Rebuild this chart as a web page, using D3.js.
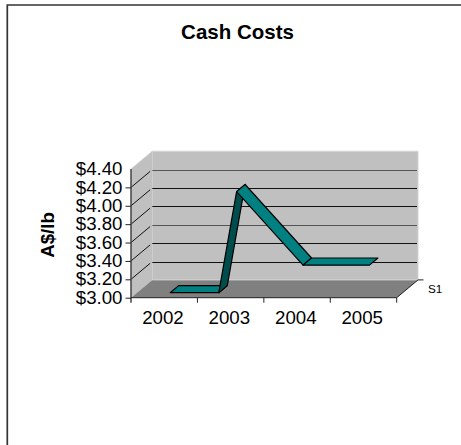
<!DOCTYPE html>
<html><head><meta charset="utf-8">
<script src="https://cdn.jsdelivr.net/npm/d3@7/dist/d3.min.js"></script>
<style>html,body{margin:0;padding:0;background:#fff}svg{display:block}text{font-family:"Liberation Sans",Arial,sans-serif;fill:#000}</style>
</head><body><svg id="c" width="461" height="445"></svg>
<script>
const categories = ["2002","2003","2004","2005"];
const costs = [0, 4.10, 3.30, 3.30];
const yTicks = [3.00,3.20,3.40,3.60,3.80,4.00,4.20,4.40];
const chartTitle = "Cash Costs";
const yTitle = "A$/lb";
const seriesName = "S1";

const svg = d3.select("#c");
const x = d3.scaleBand().domain(categories).range([131,396.7]);
const y = d3.scaleLinear().domain([3,4.4]).range([297.7,169]);
const dx = 21.3, dy = -17.8;
const P = (px,py,d) => [px+dx*d, py+dy*d];
const line = d3.line();
const [y0,y1] = y.domain(), [xl,xr] = x.range(), yb = y(y0), yt = y(y1);

svg.append("path").attr("d","M7.3,445V5H461").attr("fill","none").attr("stroke","#333").attr("stroke-width",1.7);

// walls and floor
svg.append("path").attr("d",line([P(xl,yb,0),P(xl,yb,1),P(xl,yt,1),P(xl,yt,0)])+"Z").attr("fill","#c0c0c0");
svg.append("path").attr("d",line([P(xl,yb,1),P(xr,yb,1),P(xr,yt,1),P(xl,yt,1)])+"Z").attr("fill","#c0c0c0");
svg.append("path").attr("d",line([P(xl,yb,0),P(xr,yb,0),P(xr,yb,1),P(xl,yb,1)])+"Z").attr("fill","#808080");
svg.append("path").attr("d",line([P(xl,yt,0),P(xl,yt,1),P(xr,yt,1),P(xr,yb,1),P(xl,yb,1)])).attr("fill","none").attr("stroke","#d4d4d4").attr("stroke-width",1);

// gridlines: short diagonals on the side wall, then the back wall
const inner = yTicks.slice(1,-1);
inner.forEach(t=>{
  svg.append("path").attr("d",line([P(xl,y(t),0),P(xl,y(t),0.9)])).attr("fill","none").attr("stroke","#111").attr("stroke-width",1);
  const yy = Math.round(y(t)+dy)+0.5;
  svg.append("line").attr("x1",xl+dx).attr("x2",xr+dx-1).attr("y1",yy).attr("y2",yy)
    .attr("stroke",(t>4.1||Math.abs(t-3.6)<.01)?"#555":"#111").attr("stroke-width",1);
});

// axes
svg.append("g").attr("transform",`translate(${xl},0)`)
  .call(d3.axisLeft(y).tickValues(yTicks).tickSize(5.5).tickPadding(3).tickFormat(d=>"$"+d3.format(".2f")(d)))
  .call(g=>g.selectAll("text").attr("font-size",18.7).attr("dy","0.3em").style("font-family","'Liberation Sans'"))
  .call(g=>g.select(".domain").attr("stroke","#444").attr("stroke-width",1.5).attr("d",`M0,${yt}V${yb+5}`))
  .call(g=>g.selectAll(".tick line").attr("stroke","#222"))
  .call(g=>g.selectAll(".tick").filter(d=>d===y1).select("line").remove());
svg.append("g").attr("transform",`translate(0,${yb})`)
  .call(d3.axisBottom(x).tickSize(0).tickPadding(13.5))
  .call(g=>g.selectAll("text").attr("font-size",18.7).attr("dx",-1.3).style("font-family","'Liberation Sans'"))
  .call(g=>g.select(".domain").attr("stroke","#222").attr("d",`M${xl},0H${xr}`));
svg.append("g").selectAll("line").data(x.domain().map(c=>x(c)).slice(1).concat([xr])).join("line")
  .attr("x1",d=>d).attr("x2",d=>d).attr("y1",yb).attr("y2",yb+5).attr("stroke","#222");
svg.append("path").attr("d",line([[xr,yb],P(xr,yb,1),[xr+dx+5.5,yb+dy]])).attr("fill","none").attr("stroke","#222");

// ribbon: line clipped at the floor of the value axis
const dF = 0.28, dB = 0.68;
const pts = categories.map((c,i)=>({x:x(c)+x.bandwidth()/2,v:costs[i]}));
const clipped = [];
pts.forEach((p,i)=>{
  if(i>0){
    const q = pts[i-1];
    if((q.v<y0)!==(p.v<y0)){
      const t=(y0-q.v)/(p.v-q.v);
      clipped.push({x:q.x+(p.x-q.x)*t,v:y0});
    }
  }
  clipped.push({x:p.x,v:Math.max(p.v,y0)});
});
d3.pairs(clipped).forEach(([a,b])=>{
  svg.append("path").attr("d",line([P(a.x,y(a.v),dF),P(b.x,y(b.v),dF),P(b.x,y(b.v),dB),P(a.x,y(a.v),dB)])+"Z")
    .attr("fill",b.v>a.v?"#004d4d":"#008080").attr("stroke","#000").attr("stroke-width",1.2).attr("stroke-linejoin","round");
});

svg.append("text").attr("x",237.5).attr("y",38.5).attr("text-anchor","middle").attr("font-size",20.5).attr("font-weight","bold").text(chartTitle);
svg.append("text").attr("transform","translate(54,235) rotate(-90)").attr("text-anchor","middle").attr("font-size",18.7).attr("font-weight","bold").text(yTitle);
svg.append("text").attr("x",428).attr("y",293).attr("font-size",11.7).text(seriesName);
</script></body></html>
